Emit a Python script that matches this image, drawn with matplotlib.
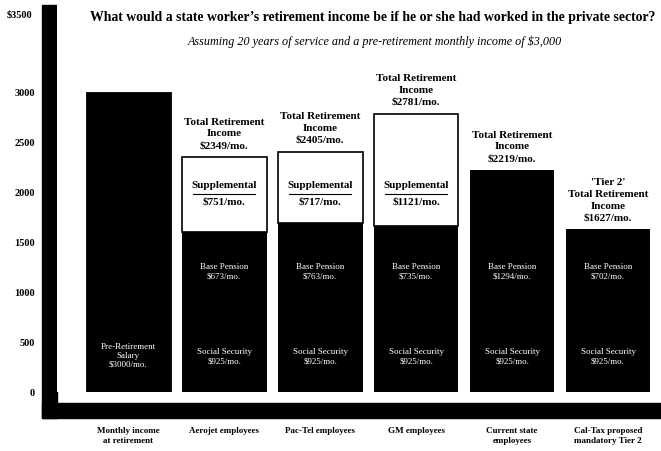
import matplotlib
matplotlib.use('Agg')
import matplotlib.pyplot as plt
from matplotlib.patches import Rectangle

# Data
categories = ['Monthly income\nat retirement', 'Aerojet employees', 'Pac-Tel employees',
              'GM employees', 'Current state\nemployees', 'Cal-Tax proposed\nmandatory Tier 2']
salary = 3000
social_security = [925, 925, 925, 925, 925]
base_pension = [673, 763, 735, 1294, 702]
supplemental = [751, 717, 1121, 0, 0]
totals = [2349, 2405, 2781, 2219, 1627]
y_ticks = [0, 500, 1000, 1500, 2000, 2500, 3000]

SERIF = 'Liberation Serif'
W, H = 661, 451

fig = plt.figure(figsize=(W / 100, H / 100), dpi=100)
# axes placed in pixel terms: left 57, right 661, top 5, bottom 392
ax = fig.add_axes([57 / W, (H - 392) / H, (W - 57) / W, (392 - 5) / H])
ax.set_xlim(-0.74, 5.552)
ax.set_ylim(0, 3870)
for s in ax.spines.values():
    s.set_visible(False)

bw = 0.885
x = list(range(6))

# first bar: pre-retirement salary
ax.bar(x[0], salary, width=bw, color='black', edgecolor='black', linewidth=0.6)
ax.text(x[0], 360, 'Pre-Retirement\nSalary\n$3000/mo.', color='white', ha='center', va='center',
        fontsize=6.5, family=SERIF, linespacing=1.15)

xs = x[1:]
ax.bar(xs, social_security, width=bw, color='black', linewidth=0)
ax.bar(xs, base_pension, bottom=social_security, width=bw, color='black', linewidth=0)
bottoms = [a + b for a, b in zip(social_security, base_pension)]
sup_x = [xi for xi, s in zip(xs, supplemental) if s > 0]
sup_v = [s for s in supplemental if s > 0]
sup_b = [b for b, s in zip(bottoms, supplemental) if s > 0]
ax.bar(sup_x, sup_v, bottom=sup_b, width=bw, color='white', edgecolor='black', linewidth=1.2)

for xi, p, ss in zip(xs, base_pension, social_security):
    ax.text(xi, 1200, f'Base Pension\n${p}/mo.', color='white', ha='center', va='center',
            fontsize=6.5, family=SERIF, linespacing=1.2)
    ax.text(xi, 350, f'Social Security\n${ss}/mo.', color='white', ha='center', va='center',
            fontsize=6.5, family=SERIF, linespacing=1.2)

for xi, s in zip(sup_x, sup_v):
    ax.text(xi, 2070, 'Supplemental', ha='center', va='center', fontsize=8, family=SERIF,
            fontweight='bold')
    ax.plot([xi - 0.32, xi + 0.32], [1985, 1985], color='black', linewidth=0.8)
    ax.text(xi, 1900, f'${s}/mo.', ha='center', va='center', fontsize=8, family=SERIF,
            fontweight='bold')

for i, (xi, t) in enumerate(zip(xs, totals)):
    label = f'Total Retirement\nIncome\n${t}/mo.'
    if i == len(xs) - 1:
        label = "'Tier 2'\n" + label
    ax.annotate(label, (xi, t), xytext=(0, 5), textcoords='offset points', ha='center', va='bottom',
                fontsize=8, family=SERIF, fontweight='bold', linespacing=1.4)

ax.set_yticks(y_ticks)
ax.set_yticklabels([str(v) for v in y_ticks], family=SERIF, fontweight='bold', fontsize=7.5)
ax.set_xticks(x)
ax.set_xticklabels(categories, family=SERIF, fontweight='bold', fontsize=6.5, linespacing=1.35, va='top')
ax.tick_params(axis='y', length=0, pad=16)
ax.tick_params(axis='x', length=0, pad=25)

# 3-D style wall and floor
fig.add_artist(Rectangle((42 / W, (H - 418) / H), 15 / W, 413 / H, transform=fig.transFigure,
                         color='black', zorder=0))
fig.add_artist(Rectangle((42 / W, (H - 418) / H), (W - 42) / W, 15 / H, transform=fig.transFigure,
                         color='black', zorder=0))

fig.text(32 / W, 1 - 15 / H, '$3500', ha='right', va='center', family=SERIF, fontweight='bold', fontsize=7.5)
fig.text(373 / W, 1 - 18 / H,
         "What would a state worker\u2019s retirement income be if he or she had worked in the private sector?",
         ha='center', va='center', family=SERIF, fontweight='bold', fontsize=9.9)
fig.text(375 / W, 1 - 42 / H, 'Assuming 20 years of service and a pre-retirement monthly income of $3,000',
         ha='center', va='center', family=SERIF, style='italic', fontsize=8.7)

fig.savefig('out.png', dpi=100)
